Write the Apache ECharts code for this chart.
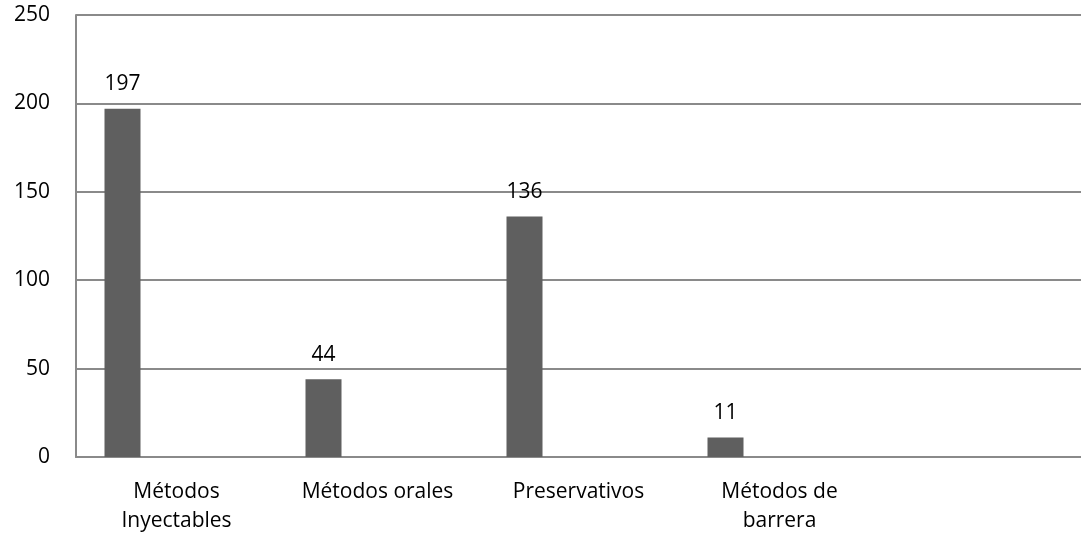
<!DOCTYPE html>
<html>
<head>
<meta charset="utf-8">
<script src="https://cdn.jsdelivr.net/npm/echarts@6/dist/echarts.min.js"></script>
<style>
  html, body { margin: 0; padding: 0; background: #fff; }
  #chart { width: 1081px; height: 537px; }
</style>
</head>
<body>
<div id="chart"></div>
<script>
// Contraceptive methods and counts
const categories = ['Métodos\nInyectables', 'Métodos orales', 'Preservativos', 'Métodos de\nbarrera', ''];
const counts = [197, 44, 136, 11];
const yTicks = { min: 0, max: 250, interval: 50 };

const FONT = '"Open Sans"';
const TEXT = '#000';
const LINE = '#8a8a8a';

const chart = echarts.init(document.getElementById('chart'), null, { renderer: 'canvas' });

// Main series plus three empty slots in each category group (clustered layout)
const series = [
  {
    type: 'bar',
    data: counts,
    barWidth: 36,
    barGap: '0%',
    itemStyle: { color: '#5f5f5f' },
    label: {
      show: true,
      position: 'top',
      distance: 14,
      fontFamily: FONT,
      fontSize: 21,
      color: TEXT
    }
  }
];
for (let i = 0; i < 3; i++) {
  series.push({ type: 'bar', data: [], barWidth: 36, barGap: '0%' });
}

chart.setOption({
  animation: false,
  backgroundColor: '#fff',
  grid: { left: 76, right: 0, top: 15, bottom: 80, containLabel: false },
  xAxis: {
    type: 'category',
    data: categories,
    axisLine: { lineStyle: { color: LINE, width: 2 } },
    axisTick: { show: false },
    axisLabel: {
      interval: 0,
      margin: 21,
      fontFamily: FONT,
      fontSize: 21,
      lineHeight: 29,
      color: TEXT
    },
    splitLine: { show: false }
  },
  yAxis: {
    type: 'value',
    min: yTicks.min,
    max: yTicks.max,
    interval: yTicks.interval,
    axisLine: { show: true, lineStyle: { color: LINE, width: 2 } },
    axisTick: { show: false },
    axisLabel: {
      margin: 26,
      fontFamily: FONT,
      fontSize: 21,
      color: TEXT
    },
    splitLine: { show: true, lineStyle: { color: LINE, width: 2 } }
  },
  series: series
});
</script>
</body>
</html>
